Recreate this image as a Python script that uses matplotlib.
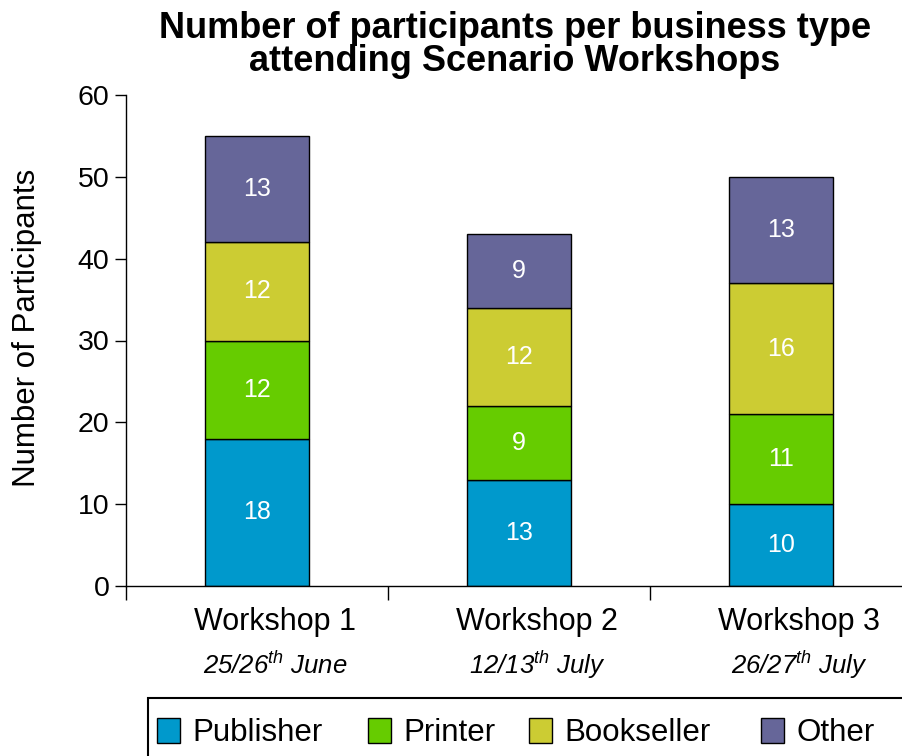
import matplotlib
matplotlib.use("Agg")
import matplotlib.pyplot as plt
from matplotlib.patches import Rectangle
from matplotlib.transforms import blended_transform_factory, ScaledTranslation
import numpy as np

plt.rcParams["font.family"] = ["Liberation Sans", "DejaVu Sans"]
plt.rcParams["mathtext.fontset"] = "custom"
plt.rcParams["mathtext.rm"] = "Liberation Sans:italic"
plt.rcParams["mathtext.it"] = "Liberation Sans:italic"

workshops = ["Workshop 1", "Workshop 2", "Workshop 3"]
dates = ["25/26$^{th}$ June", "12/13$^{th}$ July", "26/27$^{th}$ July"]
series = ["Publisher", "Printer", "Bookseller", "Other"]
publisher = [18, 13, 10]
printer = [12, 9, 11]
bookseller = [12, 12, 16]
other = [13, 9, 13]
colors = ["#0099CC", "#66CC00", "#CCCC33", "#666699"]

W, H = 903, 756
fig = plt.figure(figsize=(W / 100, H / 100), dpi=100)
ax = fig.add_axes([126 / W, (H - 586) / H, 786 / W, (586 - 95) / H])

x = np.arange(len(workshops))
bottom = np.zeros(len(workshops))
handles = []
for name, vals, col in zip(series, [publisher, printer, bookseller, other], colors):
    vals = np.array(vals, dtype=float)
    bars = ax.bar(x, vals, width=0.4, bottom=bottom, color=col,
                  edgecolor="black", linewidth=1.0, label=name)
    handles.append(bars)
    for xi, b, v in zip(x, bottom, vals):
        ax.text(xi, b + v / 2, f"{int(v)}", ha="center", va="center",
                color="white", fontsize=18)
    bottom += vals

ax.set_xlim(-0.5, 2.5)
ax.set_ylim(0, 60)
ax.set_yticks(range(0, 61, 10))
ax.tick_params(axis="y", labelsize=20.5, length=8, width=1, direction="out", pad=4)
ax.set_xticks([-0.5, 0.5, 1.5, 2.5])
ax.set_xticklabels([])
ax.tick_params(axis="x", length=10, width=1, direction="out")
for s in ["top", "right"]:
    ax.spines[s].set_visible(False)
for s in ["left", "bottom"]:
    ax.spines[s].set_linewidth(1.0)

fig.text(27 / W, 1 - 328 / H, "Number of Participants", rotation=90,
         ha="center", va="center", fontsize=22.5)

# category labels sit slightly right of the bar centres
trans = blended_transform_factory(ax.transData, fig.transFigure)
shift = ScaledTranslation(18 / 100, 0, fig.dpi_scale_trans)
for xi, w, d in zip(x, workshops, dates):
    ax.text(xi, 1 - 622 / H, w, transform=trans + shift, ha="center",
            va="center", fontsize=22)
    ax.text(xi, 1 - 665 / H, d, transform=trans + shift, ha="center",
            va="center", fontsize=18.5, style="italic")

fig.text(515 / W, 1 - 45 / H,
         "Number of participants per business type\nattending Scenario Workshops",
         ha="center", va="center", fontsize=26, fontweight="bold", linespacing=0.92)

# legend box, open to the right and bottom edges
fig.patches.append(Rectangle((148 / W, -0.05), 0.9, 0.05 + (H - 698) / H,
                             transform=fig.transFigure, facecolor="white",
                             edgecolor="black", linewidth=1.5))
legend_x = [157, 368, 529, 761]
for h, name, lx in zip(handles, series, legend_x):
    fig.legend(handles=[h], labels=[name], loc="center left",
               bbox_to_anchor=(lx / W, 1 - 733 / H), frameon=False,
               fontsize=22.5, borderpad=0, borderaxespad=0,
               handlelength=0.75, handleheight=0.85, handletextpad=0.38)

fig.savefig("out.png", dpi=100)
